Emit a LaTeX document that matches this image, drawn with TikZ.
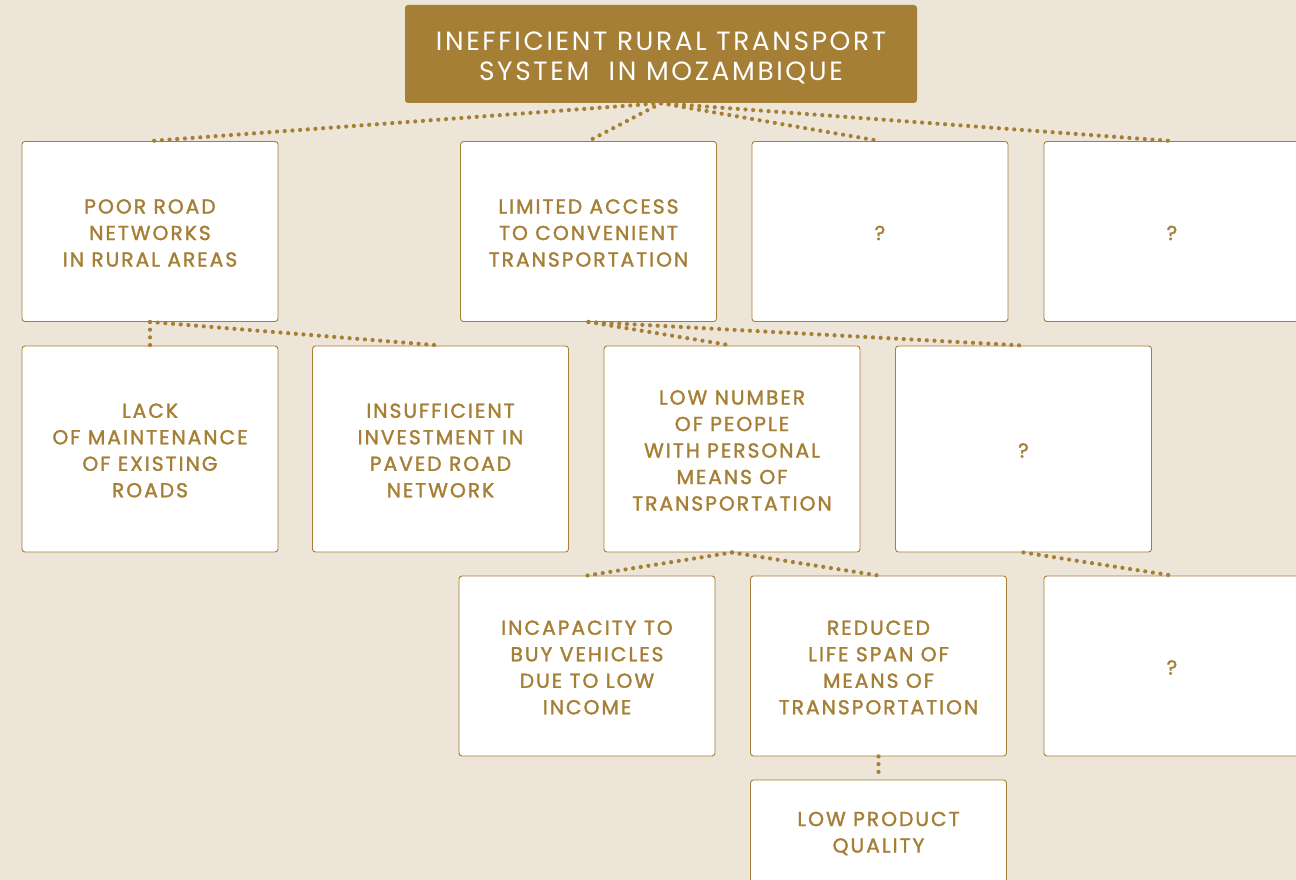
\documentclass[tikz,border=0pt]{standalone}
\usepackage{fontspec}
\setmainfont{Poppins}
\newfontfamily\boxfont{Poppins}[LetterSpace=10,FakeBold=1.6]
\newfontfamily\titlefont{Poppins}[LetterSpace=10]
\definecolor{bg}{HTML}{EDE5D7}
\definecolor{gold}{HTML}{A57F35}
\newcommand{\cbox}[5]{%
  \node[box,minimum height=#4pt] (#1) at (#2,#3) {};
  \node[boxtext] (#1-t) at ([yshift=-1.5pt]#1.center) {#5};}
\begin{document}
\begin{tikzpicture}[x=1pt,y=-1pt,
  box/.style={draw=gold,line width=0.9pt,fill=white,rounded corners=3pt,
    minimum width=256pt,inner sep=0pt},
  boxtext/.style={inner sep=0pt,align=center,text=gold,
    font=\boxfont\fontsize{20.2}{26.5}\selectfont},
  link/.style={draw=gold,line width=4.2pt,line cap=round,dash pattern=on 0pt off 7.7pt}]
\fill[bg] (0,0) rectangle (1296,880);
\useasboundingbox (0,0) rectangle (1296,880);
\clip (0,0) rectangle (1296,880);
\node[fill=gold,rounded corners=3pt,minimum width=512pt,minimum height=98pt,inner sep=0pt] (top) at (661,54) {};
\node[inner sep=0pt,align=center,text=white,font=\titlefont\fontsize{26.4}{29.5}\selectfont]
  (top-t) at ([yshift=-4pt]top.center) {INEFFICIENT RURAL TRANSPORT\\SYSTEM\ \ IN MOZAMBIQUE};
% row 1
\cbox{a1}{150}{231.5}{180}{POOR ROAD\\NETWORKS\\IN RURAL AREAS}
\cbox{a2}{588.5}{231.5}{180}{LIMITED ACCESS\\TO CONVENIENT\\TRANSPORTATION}
\cbox{a3}{880}{231.5}{180}{?}
\cbox{a4}{1172}{231.5}{180}{?}
% row 2
\cbox{b1}{150}{449}{206}{LACK\\OF MAINTENANCE\\OF EXISTING\\ROADS}
\cbox{b2}{440.5}{449}{206}{INSUFFICIENT\\INVESTMENT IN\\PAVED ROAD\\NETWORK}
\cbox{b3}{732}{449}{206}{LOW NUMBER\\OF PEOPLE\\WITH PERSONAL\\MEANS OF\\TRANSPORTATION}
\cbox{b4}{1023.5}{449}{206}{?}
% row 3
\cbox{c1}{587}{666}{180}{INCAPACITY TO\\BUY VEHICLES\\DUE TO LOW\\INCOME}
\cbox{c2}{878.5}{666}{180}{REDUCED\\LIFE SPAN OF\\MEANS OF\\TRANSPORTATION}
\cbox{c3}{1172}{666}{180}{?}
% row 4
\cbox{d1}{878.5}{832}{104}{LOW PRODUCT\\QUALITY}
% connectors
\draw[link] (top.south) -- (a1.north);
\draw[link] (top.south) -- (a2.north);
\draw[link] (top.south) -- (a3.north);
\draw[link] (top.south) -- (a4.north);
\draw[link] (a1.south) -- (b1.north);
\draw[link] (a1.south) -- (b2.north);
\draw[link] (a2.south) -- (b3.north);
\draw[link] (a2.south) -- (b4.north);
\draw[link] (b3.south) -- (c1.north);
\draw[link] (b3.south) -- (c2.north);
\draw[link] (b4.south) -- (c3.north);
\draw[link] (c2.south) -- (d1.north);
\end{tikzpicture}
\end{document}
